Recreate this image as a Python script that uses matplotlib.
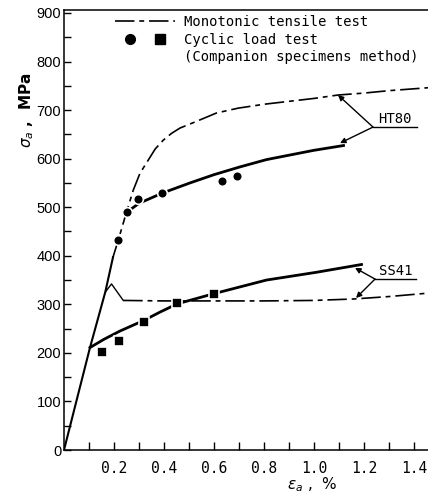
import numpy as np
import matplotlib
matplotlib.use("Agg")
import matplotlib.pyplot as plt
from matplotlib.lines import Line2D
from matplotlib.legend_handler import HandlerTuple

plt.rcParams['lines.scale_dashes'] = False

# ---------- Data (strain %, stress MPa) ----------
# shared elastic line
elastic_x = [0.0, 0.104, 0.165, 0.196]
elastic_y = [0.0, 211, 325, 397]

# HT80 monotonic tensile curve
ht80_mono_x = [0.196, 0.217, 0.25, 0.277, 0.304, 0.337, 0.365, 0.397, 0.43, 0.464, 0.531,
               0.61, 0.697, 0.8, 0.9, 1.0, 1.096, 1.2, 1.3, 1.456]
ht80_mono_y = [397, 432, 490, 535, 570, 597, 620, 638, 652, 663, 677,
               694, 704, 712, 718, 724, 731, 735, 740, 746]

# SS41 monotonic: upper yield peak then plateau
ss41_peak_x = [0.165, 0.19, 0.237]
ss41_peak_y = [325, 342, 308]
ss41_mono_x = [0.237, 0.4, 0.6, 0.8, 1.0, 1.16, 1.3, 1.456]
ss41_mono_y = [308, 307, 307, 307, 308, 311, 316, 323]

# cyclic stress-strain curves
ht80_cyc_x = [0.252, 0.3, 0.393, 0.504, 0.6, 0.704, 0.81, 0.998, 1.118]
ht80_cyc_y = [490, 508, 529, 550, 567, 583, 598, 617, 627]
ss41_cyc_x = [0.104, 0.16, 0.224, 0.32, 0.384, 0.453, 0.6, 0.81, 1.01, 1.19]
ss41_cyc_y = [211, 228, 245, 267, 284, 301, 322, 350, 366, 382]

# companion specimen test points
ht80_pts_x = [0.217, 0.25, 0.297, 0.393, 0.631, 0.691]
ht80_pts_y = [432, 490, 516, 529, 554, 564]
ss41_pts_x = [0.151, 0.22, 0.32, 0.453, 0.6]
ss41_pts_y = [202, 224, 263, 302, 321]

dashdot = (14, 3.5, 3.5, 3.5)
mono = 'DejaVu Sans Mono'

fig = plt.figure(figsize=(4.28, 4.95), dpi=100)
ax = fig.add_axes([64/428, 45/495, 1 - 64/428, 440/495])
ax.set_xlim(0, 364/250)
ax.set_ylim(0, 440/0.4856)

# ---------- Curves ----------
ax.plot(elastic_x, elastic_y, 'k-', lw=1.5)
ax.plot(ss41_peak_x, ss41_peak_y, 'k-', lw=1.0)
ax.plot(ht80_mono_x, ht80_mono_y, 'k', lw=1.2, dashes=dashdot)
ax.plot(ss41_mono_x, ss41_mono_y, 'k', lw=1.2, dashes=dashdot)
ax.plot(ht80_cyc_x, ht80_cyc_y, 'k-', lw=2.0)
ax.plot(ss41_cyc_x, ss41_cyc_y, 'k-', lw=2.0)
ax.plot(ht80_pts_x, ht80_pts_y, 'o', color='k', ms=7, mec='white', mew=1.2, zorder=5)
ax.plot(ss41_pts_x, ss41_pts_y, 's', color='k', ms=7, mec='white', mew=1.2, zorder=5)

# ---------- Labels with leaders ----------
arr = dict(arrowstyle='-|>', lw=1.0, color='k', mutation_scale=8, shrinkA=0, shrinkB=0)
ax.annotate('', xy=(1.096, 731), xytext=(1.236, 665), arrowprops=arr)
ax.annotate('', xy=(1.104, 632), xytext=(1.236, 665), arrowprops=arr)
ax.plot([1.236, 1.412], [665, 665], 'k-', lw=1.0)
ax.text(1.324, 668, 'HT80', family=mono, fontsize=10, ha='center', va='bottom')

ax.annotate('', xy=(1.164, 375), xytext=(1.244, 352), arrowprops=arr)
ax.annotate('', xy=(1.168, 313), xytext=(1.244, 352), arrowprops=arr)
ax.plot([1.244, 1.408], [352, 352], 'k-', lw=1.0)
ax.text(1.328, 355, 'SS41', family=mono, fontsize=10, ha='center', va='bottom')

# ---------- Legend ----------
h_mono = Line2D([], [], color='k', lw=1.2, dashes=dashdot)
h_circ = Line2D([], [], marker='o', color='k', ls='none', ms=7)
h_sq = Line2D([], [], marker='s', color='k', ls='none', ms=6.5)
h_none = Line2D([], [], ls='none')
ax.legend([h_mono, (h_circ, h_sq), h_none],
          ['Monotonic tensile test', 'Cyclic load test', '(Companion specimens method)'],
          handler_map={tuple: HandlerTuple(ndivide=None)},
          loc='upper left', bbox_to_anchor=(0.14, 0.988), frameon=False,
          borderpad=0, borderaxespad=0, handlelength=4.3, handletextpad=0.7,
          labelspacing=0.25, prop={'family': mono, 'size': 10})

# ---------- Axes styling ----------
ax.spines['right'].set_visible(False)
for s in ['left', 'bottom', 'top']:
    ax.spines[s].set_linewidth(1.1)
ax.set_yticks(np.arange(0, 901, 100))
ax.set_yticks(np.arange(50, 901, 100), minor=True)
ax.set_xticks(np.arange(0.2, 1.41, 0.2))
ax.set_xticks(np.arange(0.1, 1.46, 0.2), minor=True)
ax.set_xticklabels(['0.2', '0.4', '0.6', '0.8', '1.0', '1.2', '1.4'], family=mono, fontsize=10.5)
ax.set_yticklabels([str(v) for v in range(0, 901, 100)], family='Liberation Sans', fontsize=10.5)
ax.tick_params(axis='both', which='both', direction='in', width=1.0, top=False, right=False)
ax.tick_params(axis='y', which='both', length=5, pad=2)
ax.tick_params(axis='x', which='both', length=6, pad=8)

fig.text(27/428, 1 - 110/495, r'$\sigma_a$ ,  MPa', rotation=90, ha='center', va='center',
         fontsize=11, fontweight='bold')
fig.text(312/428, 1 - 485/495, r'$\varepsilon_a$ ,  %', ha='center', va='center', fontsize=11)

fig.savefig('out.png', dpi=100)
